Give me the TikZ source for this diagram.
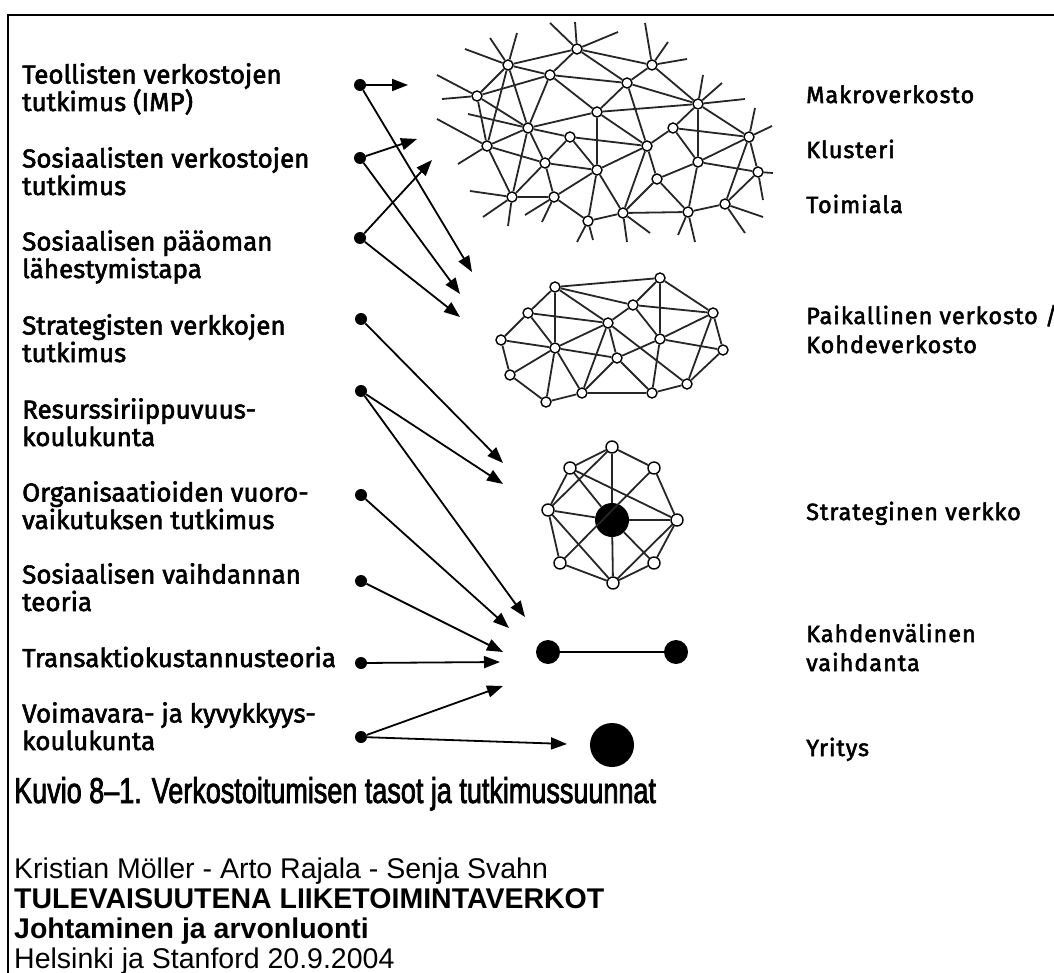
\documentclass[tikz,border=0pt]{standalone}
\usepackage{fontspec}
\setmainfont{Fira Sans}
\newfontfamily\labelfont{Fira Sans}[FakeBold=2.2]
\newfontfamily\levelfont{Fira Sans}[FakeBold=2.2,LetterSpace=4]
\newfontfamily\capfont{Liberation Sans}[FakeStretch=0.75,FakeBold=2]
\newfontfamily\reffont{Liberation Sans}
\usepackage{tikz}
\usetikzlibrary{arrows.meta, positioning, calc}

\begin{document}
\begin{tikzpicture}[
  x=1pt, y=-1pt,
  >={Triangle[length=16pt,width=12pt]},
  lbl/.style={anchor=base west, align=left, inner sep=0pt,
    font=\labelfont\fontsize{26}{27.5}\selectfont},
  lvl/.style={anchor=base west, align=left, inner sep=0pt,
    font=\levelfont\fontsize{23.5}{29}\selectfont},
  src/.style={circle, fill=black, inner sep=0pt, minimum size=12pt},
  hub/.style={circle, draw, fill=white, line width=1.4pt, inner sep=0pt, minimum size=10pt},
  blob/.style={circle, fill=black, inner sep=0pt, minimum size=#1},
  link/.style={line width=1.8pt, black!85},
  flow/.style={->, line width=1.8pt}
]
\useasboundingbox (0,0) rectangle (1054,973);

% Frame (cut at right and bottom)
\draw[line width=2.5pt] (8,973) -- (8,15) -- (1054,15);

% Research streams (left column), placed at last baseline
\node[lbl] (imp)  at (22,111) {Teollisten verkostojen\\tutkimus (IMP)};
\node[lbl] (sna)  at (22,195) {Sosiaalisten verkostojen\\tutkimus};
\node[lbl] (cap)  at (22,278) {Sosiaalisen pääoman\\lähestymistapa};
\node[lbl] (stn)  at (22,362) {Strategisten verkkojen\\tutkimus};
\node[lbl] (rdt)  at (22,446) {Resurssiriippuvuus-\\koulukunta};
\node[lbl] (ior)  at (22,529) {Organisaatioiden vuoro-\\vaikutuksen tutkimus};
\node[lbl] (set)  at (22,611) {Sosiaalisen vaihdannan\\teoria};
\node[lbl] (tce)  at (22,667) {Transaktiokustannusteoria};
\node[lbl] (rbv)  at (22,750) {Voimavara- ja kyvykkyys-\\koulukunta};

% Levels (right column)
\node[lvl] (macro) at (806,103) {Makroverkosto};
\node[lvl] (clus)  at (806,158) {Klusteri};
\node[lvl] (ind)   at (806,213) {Toimiala};
\node[lvl] (local) at (806,353) {Paikallinen verkosto /\\Kohdeverkosto};
\node[lvl] (strat) at (806,520) {Strateginen verkko};
\node[lvl] (dyad)  at (806,671) {Kahdenvälinen\\vaihdanta};
\node[lvl] (firm)  at (806,756) {Yritys};

% Macro network
\foreach \i/\xx/\yy in {1/508/65, 2/577/49, 3/652/65, 4/550/75, 5/627/83,
    6/477/96, 7/698/104, 8/597/112, 9/528/128, 10/673/128, 11/570/137,
    12/749/137, 13/487/146, 14/647/146, 15/545/163, 16/698/162, 17/597/170,
    18/657/179, 19/758/172, 20/512/197, 21/554/197, 22/725/204, 23/623/213,
    24/688/212, 25/588/221}
  \node[hub] (m\i) at (\xx,\yy) {};
\foreach \a/\b in {1/2, 1/4, 1/6, 1/9, 1/13, 2/4, 2/3, 2/5, 3/5, 3/7, 4/5,
    4/6, 4/9, 4/8, 5/8, 5/14, 5/7, 6/13, 6/9, 7/8, 7/10, 7/12, 7/16, 8/9,
    8/17, 8/14, 9/13, 9/11, 9/15, 9/20, 10/12, 10/14, 10/16, 11/14, 11/15,
    11/17, 12/16, 12/19, 12/22, 13/15, 13/20, 14/17, 14/18, 14/23, 15/21,
    15/17, 15/20, 16/18, 16/19, 16/24, 17/23, 17/25, 17/21, 18/24, 18/23,
    19/22, 20/21, 21/25, 22/24, 23/25, 23/24}
  \draw[link] (m\a) -- (m\b);
\foreach \i/\dx/\dy in {1/-43/-16, 1/-18/-27, 1/9/-32, 2/-27/-26, 2/-2/-27,
    2/41/-17, 3/-7/-42, 3/16/-23, 3/35/-6, 6/-40/-21, 6/-35/3, 7/5/-29,
    7/24/-21, 7/47/-5, 13/-50/-27, 13/-29/18, 12/6/-29, 12/23/-11,
    19/15/1, 19/5/28, 20/-42/-6, 20/-29/20, 20/-4/29, 21/-29/18, 21/-12/25,
    25/-11/21, 25/5/19, 23/4/29, 23/27/20, 24/-10/23, 24/7/30, 22/20/29,
    22/38/13, 9/-60/-14}
  \draw[link] (m\i) -- ++(\dx,\dy);

% Local network
\foreach \i/\xx/\yy in {1/555/287, 2/660/278, 3/528/313, 4/633/305,
    5/713/313, 6/501/340, 7/608/323, 8/660/339, 9/555/348, 10/723/350,
    11/617/358, 12/510/375, 13/582/393, 14/652/393, 15/687/384, 16/546/402}
  \node[hub] (p\i) at (\xx,\yy) {};
\foreach \a/\b in {1/2, 1/3, 1/9, 1/7, 1/4, 2/4, 2/8, 2/5, 3/6, 3/9, 3/7,
    4/7, 4/5, 4/8, 6/9, 6/12, 7/9, 7/13, 7/11, 7/15, 8/5, 8/11, 8/14, 8/10,
    5/10, 5/15, 9/12, 9/13, 9/16, 9/11, 11/14, 12/16, 16/13, 13/14, 14/15,
    15/10, 11/13}
  \draw[link] (p\a) -- (p\b);

% Strategic network
\node[blob=34pt] (sc) at (612,520) {};
\foreach \i/\xx/\yy in {1/612/447, 2/654/468, 3/677/520, 4/654/563,
    5/613/583, 6/560/563, 7/548/510, 8/570/468}
  \node[hub, minimum size=12pt] (s\i) at (\xx,\yy) {};
\foreach \a/\b in {1/2, 2/3, 3/4, 4/5, 5/6, 6/7, 7/8, 8/1, 1/7, 8/3,
    7/5, 3/5, 2/6}
  \draw[link] (s\a) -- (s\b);
\foreach \i in {1,3,4,5,7,8}
  \draw[link] (sc) -- (s\i);

% Dyad and firm
\node[blob=24pt] (da) at (548,652) {};
\node[blob=24pt] (db) at (676,652) {};
\draw[line width=1.4pt] (da) -- (db);
\node[blob=44pt] (fm) at (612,745) {};

% Source dots
\node[src] (d1) at (360,85)  {};
\node[src] (d2) at (360,158) {};
\node[src] (d3) at (360,238) {};
\node[src] (d4) at (361,319) {};
\node[src] (d5) at (361,391) {};
\node[src] (d6) at (361,495) {};
\node[src] (d7) at (361,581) {};
\node[src] (d8) at (361,663) {};
\node[src] (d9) at (361,737) {};

% Arrow ends
\coordinate (e1a) at (408,85);  \coordinate (e1b) at (472,272);
\coordinate (e2a) at (417,139); \coordinate (e2b) at (460,294);
\coordinate (e3a) at (432,160); \coordinate (e3b) at (460,317);
\coordinate (e4)  at (503,463);
\coordinate (e5a) at (503,484); \coordinate (e5b) at (525,617);
\coordinate (e6)  at (509,628);
\coordinate (e7)  at (503,652);
\coordinate (e8)  at (500,662);
\coordinate (e9a) at (503,686); \coordinate (e9b) at (567,744);

\draw[flow] (d1) -- (e1a);
\draw[flow] (d1) -- (e1b);
\draw[flow] (d2) -- (e2a);
\draw[flow] (d2) -- (e2b);
\draw[flow] (d3) -- (e3a);
\draw[flow] (d3) -- (e3b);
\draw[flow] (d4) -- (e4);
\draw[flow] (d5) -- (e5a);
\draw[flow] (d5) -- (e5b);
\draw[flow] (d6) -- (e6);
\draw[flow] (d7) -- (e7);
\draw[flow] (d8) -- (e8);
\draw[flow] (d9) -- (e9a);
\draw[flow] (d9) -- (e9b);

% Caption and reference
\node[anchor=base west, inner sep=0pt, font=\capfont\fontsize{36}{36}\selectfont]
  (cpt) at (14,803) {Kuvio 8–1. Verkostoitumisen tasot ja tutkimussuunnat};
\node[anchor=base west, inner sep=0pt, font=\reffont\fontsize{28.5}{31}\selectfont]
  (auth) at (14,878) {Kristian Möller - Arto Rajala - Senja Svahn};
\node[anchor=base west, inner sep=0pt, font=\reffont\bfseries\fontsize{28.5}{31}\selectfont]
  (book) at (14,908) {TULEVAISUUTENA LIIKETOIMINTAVERKOT};
\node[anchor=base west, inner sep=0pt, font=\reffont\bfseries\fontsize{28.5}{31}\selectfont]
  (sub) at (14,938) {Johtaminen ja arvonluonti};
\node[anchor=base west, inner sep=0pt, font=\reffont\fontsize{28.5}{31}\selectfont]
  (place) at (14,968) {Helsinki ja Stanford 20.9.2004};

\end{tikzpicture}
\end{document}
